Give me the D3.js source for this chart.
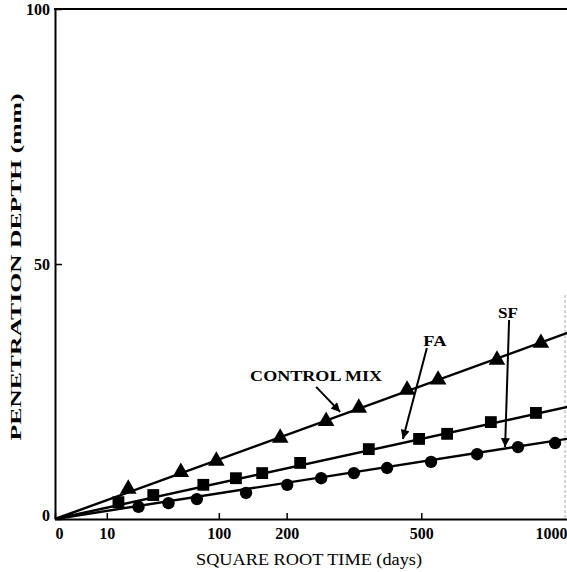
<!DOCTYPE html>
<html>
<head>
<meta charset="utf-8">
<script src="https://cdn.jsdelivr.net/npm/d3@7"></script>
<style>
  body { margin: 0; background: #fff; }
  svg { display: block; }
  text { font-family: 'Liberation Serif', 'DejaVu Serif', serif; fill: #000; }
</style>
</head>
<body>
<svg id="chart"></svg>
<script>
// readings (x in days, y in mm)
const controlDays = [20, 59, 97, 189, 274, 344, 462, 547, 728, 880]
const controlDepth = [5.9, 9.2, 11.4, 15.9, 19.2, 21.8, 25.3, 27.3, 31.2, 34.5]

const faDays = [15, 36, 82, 122, 160, 224, 367, 494, 573, 708, 862]
const faDepth = [3.3, 4.7, 6.7, 8.0, 9.0, 11.0, 13.7, 15.7, 16.7, 19.0, 20.8]

const sfDays = [26, 48, 75, 136, 201, 264, 333, 411, 527, 664, 799, 932]
const sfDepth = [2.4, 3.1, 3.9, 5.1, 6.7, 8.0, 9.0, 10.0, 11.2, 12.7, 14.1, 14.9]

// fitted lines: depth at 0 and 1000 days
const fitEnds = [0, 1000]
const controlFit = [0, 36.9]
const faFit = [0, 22.2]
const sfFit = [0, 15.9]

const xTicks = [0, 10, 100, 200, 500, 1000]
const yTicks = [0, 50, 100]

const labels = ['CONTROL MIX', 'FA', 'SF']
const labelDays = [303, 451, 755]
const labelDepth = [21.0, 15.7, 14.1]

const width = 567
const height = 572

const svg = d3.select('svg#chart')
  .attr('width', width)
  .attr('height', height)

const x = d3.scaleSqrt().domain([0, 1000]).range([55, 573])
const y = d3.scaleLinear().domain([0, 100]).range([519, 9])

const series = [
  { name: 'control', days: controlDays, depth: controlDepth, fit: controlFit, shape: d3.symbolTriangle, size: 120 },
  { name: 'fa', days: faDays, depth: faDepth, fit: faFit, shape: d3.symbolSquare, size: 140 },
  { name: 'sf', days: sfDays, depth: sfDepth, fit: sfFit, shape: d3.symbolCircle, size: 120 }
]

// faint scan edge on the right
svg.append('line')
  .attr('x1', 565).attr('x2', 565)
  .attr('y1', 295).attr('y2', 519)
  .attr('stroke', '#c8c8c8')
  .attr('stroke-width', 1.5)
  .attr('stroke-dasharray', '3,2')

// top frame
svg.append('line')
  .attr('x1', x(0) - 1).attr('x2', width)
  .attr('y1', y(100)).attr('y2', y(100))
  .attr('stroke', '#000')
  .attr('stroke-width', 2)

const xAxis = svg.append('g')
  .attr('transform', `translate(0,${y(0)})`)
  .call(d3.axisBottom(x).tickValues(xTicks).tickFormat(d3.format('d'))
    .tickSizeInner(-6).tickSizeOuter(0).tickPadding(9))

xAxis.select('.domain').attr('stroke-width', 2)
xAxis.selectAll('.tick line').attr('stroke-width', 1.5)
xAxis.selectAll('.tick text')
  .style('font-family', "'Liberation Serif', serif")
  .style('font-weight', 'bold')
  .style('font-size', '16px')
xAxis.selectAll('.tick').filter(d => d === 0).select('text').attr('dx', 4)
xAxis.selectAll('.tick').filter(d => d === 1000).select('text')
  .attr('text-anchor', 'end')
  .attr('x', width - x(1000))

const yAxis = svg.append('g')
  .attr('transform', `translate(${x(0)},0)`)
  .call(d3.axisLeft(y).tickValues(yTicks).tickSizeInner(-7).tickSizeOuter(0).tickPadding(5))

yAxis.select('.domain').attr('stroke-width', 2)
yAxis.selectAll('.tick line').attr('stroke-width', 1.5)
yAxis.selectAll('.tick text')
  .style('font-family', "'Liberation Serif', serif")
  .style('font-weight', 'bold')
  .style('font-size', '16px')
yAxis.selectAll('.tick').filter(d => d === 0).select('text').attr('dy', '0.1em')

const line = d3.line()
  .x(d => x(d[0]))
  .y(d => y(d[1]))

const g = svg.append('g')

series.forEach(s => {
  g.append('path')
    .datum(fitEnds.map((d, i) => [d, s.fit[i]]))
    .attr('d', line)
    .attr('fill', 'none')
    .attr('stroke', '#000')
    .attr('stroke-width', 2.4)

  g.selectAll('.pt-' + s.name)
    .data(s.days.map((d, i) => [d, s.depth[i]]))
    .enter().append('path')
    .attr('class', 'pt-' + s.name)
    .attr('transform', d => `translate(${x(d[0])},${y(d[1])})`)
    .attr('d', d3.symbol().type(s.shape).size(s.size))
    .attr('fill', '#000')
})

// arrows + labels
svg.append('defs').append('marker')
  .attr('id', 'head')
  .attr('viewBox', '0 0 10 10')
  .attr('refX', 10).attr('refY', 5)
  .attr('markerWidth', 5).attr('markerHeight', 4.5)
  .attr('markerUnits', 'strokeWidth')
  .attr('orient', 'auto')
  .append('path')
  .attr('d', 'M0,0L10,5L0,10z')
  .attr('fill', '#000')

const tails = [[-24, -25], [24, -91], [4, -127]]
const textPos = [[-24, -31], [32, -93], [3, -129]]
const textLen = [132, 23, 20]

labels.forEach((name, i) => {
  const tx = x(labelDays[i])
  const ty = y(labelDepth[i])
  svg.append('line')
    .attr('x1', tx + tails[i][0]).attr('y1', ty + tails[i][1])
    .attr('x2', tx).attr('y2', ty)
    .attr('stroke', '#000')
    .attr('stroke-width', 2)
    .attr('marker-end', 'url(#head)')
  svg.append('text')
    .attr('x', tx + textPos[i][0])
    .attr('y', ty + textPos[i][1])
    .attr('text-anchor', 'middle')
    .attr('textLength', textLen[i])
    .attr('lengthAdjust', 'spacingAndGlyphs')
    .style('font-weight', 'bold')
    .style('font-size', '15px')
    .text(name)
})

// axis titles
svg.append('text')
  .attr('x', 309)
  .attr('y', 565)
  .attr('text-anchor', 'middle')
  .attr('textLength', 226)
  .attr('lengthAdjust', 'spacingAndGlyphs')
  .style('font-size', '17px')
  .text('SQUARE ROOT TIME (days)')

svg.append('text')
  .attr('transform', 'translate(21,267) rotate(-90)')
  .attr('text-anchor', 'middle')
  .attr('textLength', 347)
  .attr('lengthAdjust', 'spacingAndGlyphs')
  .style('font-weight', 'bold')
  .style('font-size', '15px')
  .text('PENETRATION DEPTH (mm)')
</script>
</body>
</html>
